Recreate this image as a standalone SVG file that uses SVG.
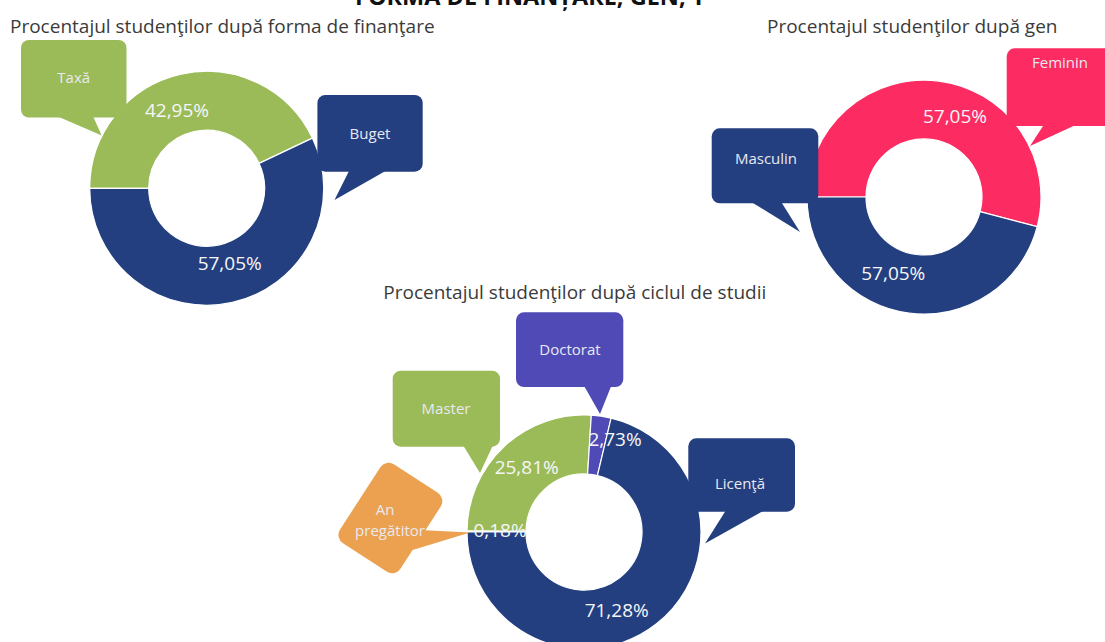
<svg xmlns="http://www.w3.org/2000/svg" width="1105" height="642" viewBox="0 0 1105 642">
<style>
.bg{fill:#ffffff}
.slice{stroke:#ffffff;stroke-width:1.2}
.green{fill:#9bbb59}
.navy{fill:#233f80}
.pink{fill:#fc2b62}
.purple{fill:#4f4ab6}
.orange{fill:#eba14f}
.title{font-family:"Open Sans","Liberation Sans",sans-serif;font-size:19px;fill:#3b3b3b}
.head{font-family:"Open Sans","Liberation Sans",sans-serif;font-size:23.5px;font-weight:bold;fill:#111111}
.pct{font-family:"Open Sans","Liberation Sans",sans-serif;font-size:19px;fill:#f6f6f6;text-anchor:middle}
.lbl{font-family:"Open Sans","Liberation Sans",sans-serif;font-size:15px;fill:#e9e9f0;text-anchor:middle}
</style>
<rect class="bg" x="0" y="0" width="1105" height="642"/>
<text class="head" x="355" y="5">FORMA DE FINANȚARE, GEN, T</text>

<g id="chart-finantare">
  <text class="title" x="10" y="33">Procentajul studenţilor după forma de finanţare</text>
  <path class="slice green" d="M 89.7 188.3 A 117 117 0 0 1 312.4 138.1 L 259.1 163.4 A 58 58 0 0 0 148.7 188.3 Z"/>
  <path class="slice navy" d="M 312.4 138.1 A 117 117 0 1 1 89.7 188.3 L 148.7 188.3 A 58 58 0 1 0 259.1 163.4 Z"/>
  <g id="callout-taxa">
    <rect class="green" x="21" y="40" width="105.5" height="77.5" rx="8"/>
    <polygon class="green" points="52,114 101.7,135.5 92,114"/>
    <text class="lbl" x="73.7" y="83">Taxă</text>
  </g>
  <g id="callout-buget">
    <rect class="navy" x="317.4" y="95" width="105.3" height="76.7" rx="8"/>
    <polygon class="navy" points="350,169 334.5,200 389,169"/>
    <text class="lbl" x="370" y="139">Buget</text>
  </g>
  <text class="pct" x="177" y="117">42,95%</text>
  <text class="pct" x="229.7" y="270">57,05%</text>
</g>

<g id="chart-gen">
  <text class="title" x="767" y="33">Procentajul studenţilor după gen</text>
  <path class="slice pink" d="M 807 197 A 117 117 0 1 1 1037.2 226.7 L 980.1 211.7 A 58 58 0 1 0 866 197 Z"/>
  <path class="slice navy" d="M 1037.2 226.7 A 117 117 0 0 1 807 197 L 866 197 A 58 58 0 0 0 980.1 211.7 Z"/>
  <g id="callout-masculin">
    <rect class="navy" x="711.7" y="128.3" width="106.6" height="75" rx="8"/>
    <polygon class="navy" points="748,200 800,232 780,200"/>
    <text class="lbl" x="766" y="164">Masculin</text>
  </g>
  <g id="callout-feminin">
    <rect class="pink" x="1006.7" y="48.3" width="110" height="77.7" rx="8"/>
    <polygon class="pink" points="1045,123 1030,146 1080,123"/>
    <text class="lbl" x="1060" y="68">Feminin</text>
  </g>
  <text class="pct" x="955" y="123">57,05%</text>
  <text class="pct" x="893.3" y="280">57,05%</text>
</g>

<g id="chart-ciclu">
  <text class="title" x="383.3" y="299">Procentajul studenţilor după ciclul de studii</text>
  <path class="slice orange" d="M 467 532 A 117 117 0 0 1 467.0 530.7 L 526.0 531.3 A 58 58 0 0 0 526 532 Z"/>
  <path class="slice green" d="M 467.0 530.7 A 117 117 0 0 1 591.3 415.2 L 587.6 474.1 A 58 58 0 0 0 526.0 531.3 Z"/>
  <path class="slice purple" d="M 591.3 415.2 A 117 117 0 0 1 611.1 418.2 L 597.4 475.6 A 58 58 0 0 0 587.6 474.1 Z"/>
  <path class="slice navy" d="M 611.1 418.2 A 117 117 0 1 1 467 532 L 526 532 A 58 58 0 1 0 597.4 475.6 Z"/>
  <g id="callout-doctorat">
    <rect class="purple" x="516" y="312.3" width="107.3" height="74.7" rx="8"/>
    <polygon class="purple" points="583,384 600,414 612,384"/>
    <text class="lbl" x="570" y="355">Doctorat</text>
  </g>
  <g id="callout-master">
    <rect class="green" x="392.7" y="370.7" width="107.3" height="76" rx="8"/>
    <polygon class="green" points="461.7,443 480,473 494,443"/>
    <text class="lbl" x="446" y="414">Master</text>
  </g>
  <g id="callout-licenta">
    <rect class="navy" x="688.3" y="438.3" width="106.7" height="73.4" rx="8"/>
    <polygon class="navy" points="726.7,509 705,543.5 766.7,509"/>
    <text class="lbl" x="740" y="489">Licenţă</text>
  </g>
  <g id="callout-an-pregatitor">
    <rect class="orange" x="-36" y="-47" width="72" height="94" rx="10" transform="translate(390.4,518) rotate(33)"/>
    <polygon class="orange" points="420,530 470,532.5 406,552"/>
    <text class="lbl" x="385" y="515">An</text>
    <text class="lbl" x="390" y="536">pregătitor</text>
  </g>
  <text class="pct" x="615" y="446">2,73%</text>
  <text class="pct" x="526.7" y="474">25,81%</text>
  <text class="pct" x="500" y="537">0,18%</text>
  <text class="pct" x="616.7" y="617">71,28%</text>
</g>
<g id="connectors"/>
</svg>
